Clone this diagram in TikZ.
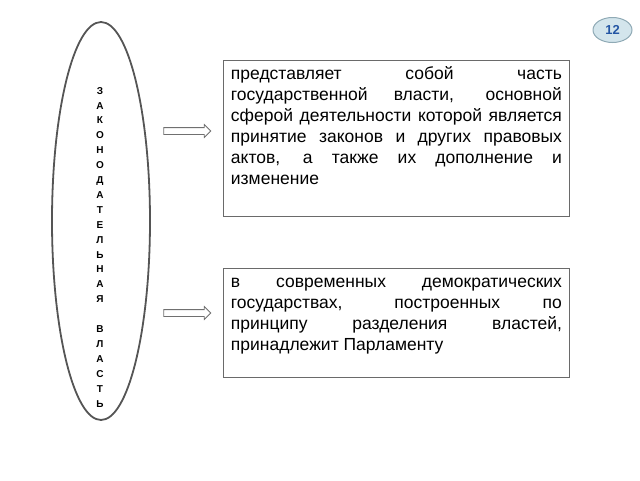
\documentclass[tikz,border=0pt]{standalone}
\usepackage{fontspec}
\setmainfont{Liberation Sans}
\usetikzlibrary{shapes.geometric,shapes.arrows}
\definecolor{ovalgray}{HTML}{555555}
\definecolor{boxgray}{HTML}{6A6A6A}
\definecolor{arrowgray}{HTML}{707070}
\definecolor{badgefill}{HTML}{D3E5EC}
\definecolor{badgeedge}{HTML}{8FAAB5}
\definecolor{badgetext}{HTML}{2456A4}
\begin{document}
\begin{tikzpicture}[x=1pt,y=-1pt,
  defbox/.style={draw=boxgray,line width=0.9pt,anchor=north west,inner xsep=7.5pt,inner ysep=4.3pt,
    font=\fontsize{17.5}{21}\selectfont},
  pointer/.style={single arrow,draw=arrowgray,fill=white,line width=0.8pt,minimum height=47pt,
    minimum width=12pt,inner xsep=0pt,inner ysep=3pt,single arrow head extend=3pt}]
  \useasboundingbox (0,0) rectangle (640,480);
  \node[ellipse,draw=ovalgray,line width=1.8pt,minimum width=98pt,minimum height=398pt,inner sep=0pt] (branch) at (101,221) {};
  \node[font=\bfseries\fontsize{10}{14.9}\selectfont,align=center,anchor=north,inner sep=0pt] (branchname) at (100,87)
    {З\\А\\К\\О\\Н\\О\\Д\\А\\Т\\Е\\Л\\Ь\\Н\\А\\Я\\[14.9pt]В\\Л\\А\\С\\Т\\Ь};
  \node[pointer] (toDefA) at (185.5,131) {};
  \node[pointer] (toDefB) at (185.5,313) {};
  \node[defbox] (defA) at (223,60) {\parbox[c][147.4pt][t]{331pt}{\tolerance=10000\hyphenpenalty=10000\strut
    представляет собой часть\linebreak государственной власти, основной\linebreak сферой деятельности которой является\linebreak
    принятие законов и других правовых\linebreak актов, а также их дополнение и\linebreak изменение}};
  \node[defbox] (defB) at (223,268) {\parbox[c][100.4pt][t]{331pt}{\tolerance=10000\hyphenpenalty=10000\strut
    в современных демократических\linebreak государствах, построенных по\linebreak принципу разделения властей,\linebreak
    принадлежит Парламенту}};
  \node[ellipse,draw=badgeedge,fill=badgefill,line width=1pt,minimum width=39pt,minimum height=25pt,inner sep=0pt,
    text=badgetext,font=\bfseries\fontsize{13}{13}\selectfont] (pagenum) at (612.5,30) {12};
\end{tikzpicture}
\end{document}
